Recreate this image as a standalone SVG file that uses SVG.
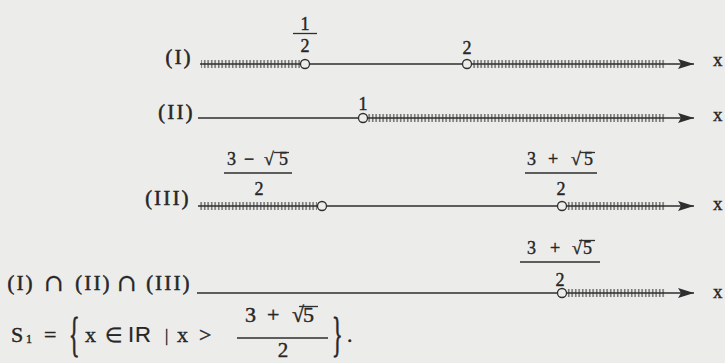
<svg xmlns="http://www.w3.org/2000/svg" width="725" height="363" viewBox="0 0 725 363">
<defs>
<pattern id="hatch" width="3.5" height="1" patternUnits="userSpaceOnUse"><rect x="1.2" y="0" width="1" height="1" fill="#2e2e2e"/></pattern>
<marker id="arr" markerWidth="16" markerHeight="10" refX="16" refY="5" orient="auto" markerUnits="userSpaceOnUse"><path d="M0,0 L16,5 L0,10 L3,5 Z" fill="#2e2e2e"/></marker>
</defs>
<style>
text{font-family:"Liberation Serif","Times New Roman",serif;fill:#262626;stroke:#262626;stroke-width:0.4}
.lab{font-size:20px;letter-spacing:2.5px;text-anchor:end;stroke-width:0.6}
.cap{font-size:24px;font-family:"DejaVu Serif","Liberation Serif",serif;stroke-width:0.3}
.x{font-size:19px}
.f{font-size:18px}
.fc{font-size:18px;text-anchor:middle}
.s{font-size:22px}
.ax{stroke:#2e2e2e;stroke-width:1.3;fill:none}
.bar{stroke:#2e2e2e;stroke-width:1.3}
.pt{fill:#ececea;stroke:#2e2e2e;stroke-width:1.3}
.h{fill:url(#hatch)}
</style>
<rect width="725" height="363" fill="#ececea"/>

<g id="row1">
<text class="lab" x="193" y="64">(I)</text>
<line class="ax" x1="200" y1="64" x2="694" y2="64" marker-end="url(#arr)"/>
<rect class="h" x="201" y="60" width="99" height="8"/>
<rect class="h" x="472" y="60" width="193" height="8"/>
<circle class="pt" cx="305" cy="64" r="4.5"/>
<circle class="pt" cx="467" cy="64" r="4.5"/>
<text class="fc" x="305" y="30">1</text>
<line class="bar" x1="293" y1="33.5" x2="317" y2="33.5"/>
<text class="fc" x="305" y="52">2</text>
<text class="fc" x="467" y="54">2</text>
<text class="x" x="713" y="66">x</text>
</g>

<g id="row2">
<text class="lab" x="195" y="119">(II)</text>
<line class="ax" x1="198" y1="118" x2="694" y2="118" marker-end="url(#arr)"/>
<rect class="h" x="368" y="114" width="297" height="8"/>
<circle class="pt" cx="363" cy="118" r="4.5"/>
<text class="fc" x="363" y="110">1</text>
<text class="x" x="713" y="121">x</text>
</g>

<g id="row3">
<text class="lab" x="191" y="205">(III)</text>
<line class="ax" x1="198" y1="206" x2="694" y2="206" marker-end="url(#arr)"/>
<rect class="h" x="200" y="202" width="117" height="8"/>
<rect class="h" x="567" y="202" width="98" height="8"/>
<circle class="pt" cx="322" cy="206" r="4.5"/>
<circle class="pt" cx="562" cy="206" r="4.5"/>
<text class="f" x="227" y="165">3</text>
<text class="f" x="244" y="165">−</text>
<text class="f" x="264" y="165">√</text>
<text class="f" x="279" y="165">5</text>
<line class="bar" x1="274" y1="152.5" x2="289" y2="152.5"/>
<line class="bar" x1="224" y1="173" x2="292" y2="173"/>
<text class="fc" x="259" y="195">2</text>
<text class="f" x="527" y="165">3</text>
<text class="f" x="548" y="165">+</text>
<text class="f" x="571" y="165">√</text>
<text class="f" x="584" y="165">5</text>
<line class="bar" x1="580" y1="152.5" x2="595" y2="152.5"/>
<line class="bar" x1="525" y1="173" x2="597" y2="173"/>
<text class="fc" x="561" y="195">2</text>
<text class="x" x="713" y="210">x</text>
</g>

<g id="row4">
<text class="lab" x="35" y="290">(I)</text>
<text class="cap" x="44" y="291">∩</text>
<text class="lab" x="112" y="290">(II)</text>
<text class="cap" x="117" y="291">∩</text>
<text class="lab" x="192" y="290">(III)</text>
<line class="ax" x1="197" y1="293" x2="694" y2="293" marker-end="url(#arr)"/>
<rect class="h" x="567" y="289" width="98" height="8"/>
<circle class="pt" cx="562" cy="293" r="4.5"/>
<text class="f" x="527" y="254">3</text>
<text class="f" x="550" y="254">+</text>
<text class="f" x="572" y="254">√</text>
<text class="f" x="583" y="254">5</text>
<line class="bar" x1="579" y1="240.5" x2="595" y2="240.5"/>
<line class="bar" x1="520" y1="262" x2="600" y2="262"/>
<text class="fc" x="560" y="286">2</text>
<text class="x" x="713" y="298">x</text>
</g>

<g id="solution">
<text class="s" x="11" y="342">S</text>
<text x="26" y="343" style="font-size:12px">1</text>
<text class="s" x="44" y="342">=</text>
<text class="s" transform="translate(69,351) scale(1,2.2)">{</text>
<text class="s" x="85" y="342">x</text>
<text class="s" x="105" y="342" style="font-size:20px">∈</text>
<text x="128" y="342" style="font-family:'Liberation Sans',Arial,sans-serif;font-size:22px;stroke-width:0.2">I</text>
<text x="135" y="342" style="font-family:'Liberation Sans',Arial,sans-serif;font-size:22px;stroke-width:0.2">R</text>
<text x="165" y="341" style="font-size:16px">|</text>
<text class="s" x="177" y="342">x</text>
<text class="s" x="199" y="342">&gt;</text>
<text class="s" x="245" y="322">3</text>
<text class="s" x="267" y="322">+</text>
<text class="s" x="292" y="322">√</text>
<text class="s" x="303" y="322">5</text>
<line class="bar" x1="299" y1="306.5" x2="318" y2="306.5"/>
<line class="bar" x1="237" y1="338" x2="328" y2="338"/>
<text class="s" x="283" y="357" text-anchor="middle" style="font-size:21px">2</text>
<text class="s" transform="translate(332,351) scale(1,2.2)">}</text>
<text class="s" x="347" y="342">.</text>
</g>
</svg>
